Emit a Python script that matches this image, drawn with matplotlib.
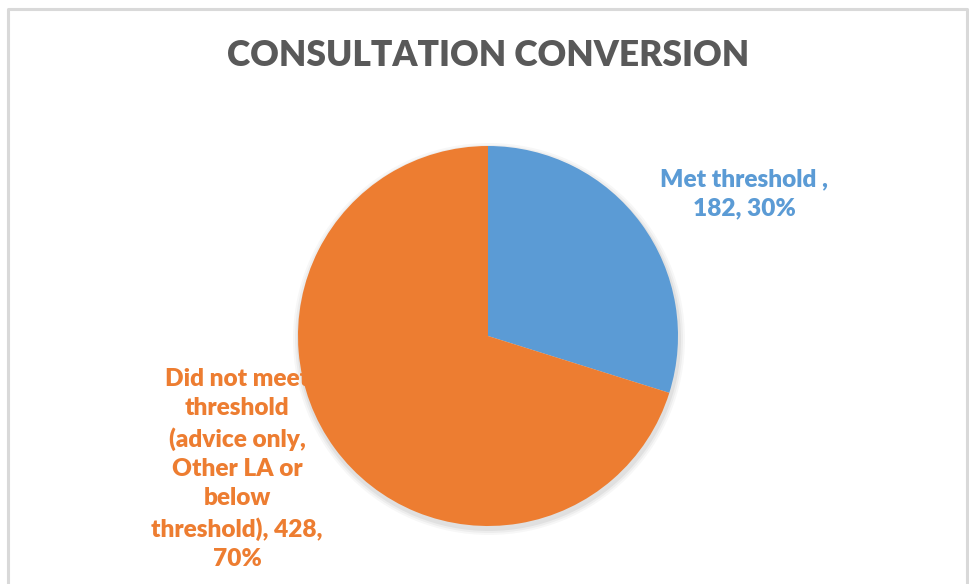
import matplotlib
matplotlib.use("Agg")
import matplotlib.pyplot as plt
from matplotlib.lines import Line2D

categories = ["Met threshold ", "Did not meet threshold (advice only, Other LA or below threshold)"]
values = [182, 428]
percents = ["30%", "70%"]
colors = ["#5B9BD5", "#ED7D31"]
title = "CONSULTATION CONVERSION"

W, H = 970, 584
fig = plt.figure(figsize=(W / 100, H / 100), dpi=100)
ax = fig.add_axes([0, 0, 1, 1])

font = ["Lato", "DejaVu Sans"]

cx, cy, r = 488, H - 336, 190
# soft shadow
for i, a in enumerate([0.05, 0.04, 0.03]):
    ax.pie([1], colors=["#000000"], radius=r + 2 + i * 2, center=(cx + 1, cy - 3),
           wedgeprops=dict(alpha=a, linewidth=0), frame=True)
ax.pie(values, colors=colors, startangle=90, counterclock=False, radius=r,
       center=(cx, cy), wedgeprops=dict(linewidth=0), frame=True)
ax.set_xlim(0, W)
ax.set_ylim(0, H)
ax.set_aspect("equal")
ax.axis("off")

# border (top, left, right)
bc = "#d9d9d9"
ax.add_line(Line2D([8.5, 8.5, 967.5, 967.5], [0, H - 8.5, H - 8.5, 0], color=bc, lw=2.2))

ax.text(488, H - 55, title, ha="center", va="center", fontsize=25.5, fontweight="heavy",
        color="#595959", family=font)

lab1 = f"{categories[0]},\n{values[0]}, {percents[0]}"
ax.text(744, H - 194, lab1, ha="center", va="center", fontsize=17.6, fontweight="heavy",
        color=colors[0], family=font, linespacing=1.4)

lab2 = "Did not meet\nthreshold\n(advice only,\nOther LA or\nbelow\nthreshold), " + f"{values[1]},\n{percents[1]}"
ax.text(237, H - 469, lab2, ha="center", va="center", fontsize=17.6, fontweight="heavy",
        color=colors[1], family=font, linespacing=1.4)

fig.savefig("out.png", dpi=100)
